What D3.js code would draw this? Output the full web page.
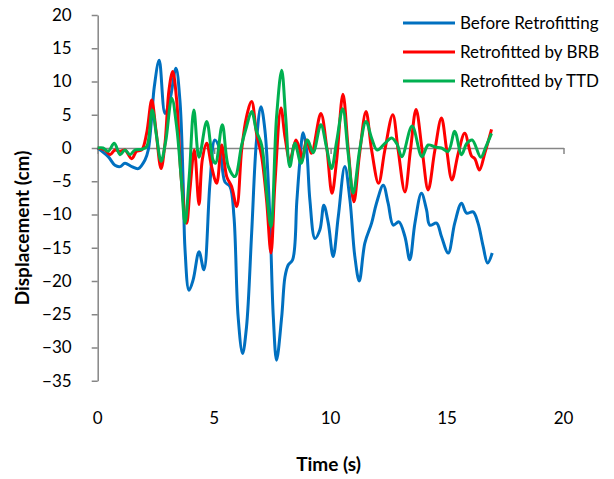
<!DOCTYPE html>
<html>
<head>
<meta charset="utf-8">
<script src="https://cdn.jsdelivr.net/npm/d3@7/dist/d3.min.js"></script>
<style>
  html, body { margin: 0; padding: 0; background: #fff; }
  svg { display: block; font-family: Lato, "Open Sans", sans-serif; }
</style>
</head>
<body>
<svg id="chart" width="614" height="479"></svg>
<script>
// Time (s) and displacement (cm) samples for each case
const beforeT = [0,0.45,0.74,0.96,1.17,1.46,1.74,2.03,2.17,2.32,2.43,2.64,2.89,3.10,3.36,3.53,3.67,3.75,3.92,4.10,4.35,4.56,4.82,5.03,5.25,5.46,5.68,5.85,6.03,6.22,6.39,6.61,6.82,7.01,7.18,7.39,7.54,7.68,7.90,8.04,8.18,8.37,8.55,8.68,8.82,8.97,9.11,9.33,9.54,9.71,9.90,10.11,10.33,10.61,10.83,11.04,11.23,11.47,11.76,11.97,12.26,12.47,12.69,12.93,13.19,13.40,13.62,13.90,14.12,14.26,14.55,14.76,15.05,15.33,15.62,15.84,16.12,16.33,16.55,16.74,16.94];
const beforeD = [0,-1.3,-2.6,-2.8,-2.3,-2.8,-3.1,-1.8,-0.3,4.7,9.2,13.2,5.2,7.2,12.0,7.2,-5.3,-15.3,-21.4,-19.8,-15.6,-18.3,-5.3,1.2,-0.3,-5.1,-5.8,-10.3,-25.4,-30.9,-26.9,-12.8,1.2,6.2,2.7,-10.3,-25.4,-31.9,-25.4,-19.4,-17.6,-16.8,-8,-2,2.3,-0.3,-7.8,-13.6,-12.3,-8.6,-11.3,-16.3,-10.3,-2.8,-7.8,-16.3,-20,-14.3,-11.3,-8.3,-5.6,-8.3,-11.6,-11.1,-13.3,-16.8,-11.3,-6.8,-9.3,-11.6,-11.3,-13.3,-15.8,-11.3,-8.3,-9.8,-9.6,-11.3,-14.8,-17.3,-15.8];

const brbT = [0,0.31,0.53,0.74,0.96,1.17,1.46,1.67,1.89,2.10,2.32,2.50,2.72,2.89,3.06,3.22,3.39,3.58,3.82,3.96,4.15,4.35,4.49,4.68,4.89,5.11,5.32,5.54,5.75,5.97,6.18,6.39,6.61,6.82,7.04,7.25,7.44,7.61,7.87,8.04,8.25,8.51,8.68,8.78,8.97,9.18,9.58,9.83,10.06,10.26,10.53,10.76,11.00,11.23,11.52,11.76,12.06,12.33,12.67,12.90,13.19,13.43,13.67,13.93,14.19,14.47,14.76,14.98,15.21,15.48,15.76,16.05,16.19,16.39,16.62,16.91];
const brbD = [0,-0.3,-1,-0.3,-0.5,-0.3,-1.6,-0.5,-0.3,2.2,7.2,2.7,-3.1,0.7,8.7,11.5,7.2,-4.3,-11.3,-6.3,-0.3,-8.5,-1.8,0.7,-2.8,-5.3,0.45,-4.3,-5.8,-8.8,-0.3,4.7,7,2.2,-1.3,-7.8,-15.8,-5.3,6,1.7,-1.8,1.2,-0.3,-1.8,1.2,-0.8,5.2,0.2,-6.8,-1.8,8.1,-0.3,-8.1,-1.3,5.5,-0.3,-5.3,-0.3,5,-0.3,-6.6,-0.3,5.8,-0.3,-6.3,-0.5,4.5,-0.2,-4.8,-0.8,2.2,-1.2,-1.6,-3.3,-0.8,2.8];

const ttdT = [0,0.23,0.45,0.71,0.96,1.17,1.39,1.60,1.89,2.10,2.34,2.53,2.72,2.92,3.18,3.39,3.58,3.75,3.93,4.13,4.35,4.68,4.95,5.06,5.35,5.61,5.89,6.18,6.39,6.61,6.82,7.04,7.25,7.44,7.68,7.90,8.07,8.25,8.47,8.73,9.01,9.25,9.58,9.83,10.04,10.26,10.52,10.76,10.97,11.26,11.52,11.76,12.00,12.33,12.62,12.85,13.06,13.50,13.92,14.19,14.48,14.76,15.05,15.33,15.62,15.85,16.08,16.45,16.67,16.91];
const ttdD = [0,0,-0.5,0.7,-1,-0.3,-1,-0.3,-0.2,0.2,5.7,1.7,-2,1,7.5,3.2,-4.3,-11.3,-4.3,5.7,-1.4,4,-1.8,-2.3,3.5,-2.8,-4.3,0.45,3.2,5.5,2.5,0.45,-6.6,-11.8,4.7,11.7,4.7,-2.8,0.7,-2.3,1.2,-0.7,3.5,0,-3.1,1,5.9,-1,-6.8,0,4,1.5,-0.3,0.7,1.5,0.6,-1.3,3.3,-1.3,0.45,0.15,0,-0.5,2.5,-1,0.7,1.2,-1.4,0.2,2.2];

const seriesNames = ["Before Retrofitting", "Retrofitted by BRB", "Retrofitted by TTD"];
const seriesColors = ["#0070C0", "#FF0000", "#00B050"];
const xTicks = [0, 5, 10, 15, 20];
const yTicks = [20, 15, 10, 5, 0, -5, -10, -15, -20, -25, -30, -35];

const series = [
  { name: seriesNames[0], color: seriesColors[0], pts: beforeT.map((t, i) => [t, beforeD[i]]) },
  { name: seriesNames[1], color: seriesColors[1], pts: brbT.map((t, i) => [t, brbD[i]]) },
  { name: seriesNames[2], color: seriesColors[2], pts: ttdT.map((t, i) => [t, ttdD[i]]) }
];

const svg = d3.select("#chart");
const x = d3.scaleLinear().domain([0, 20]).range([97.7, 563.5]);
const y = d3.scaleLinear().domain([-35, 20]).range([380.75, 15]);
const axisColor = "#868686";

// Vertical axis with ticks pointing left
const yAxis = svg.append("g")
  .attr("transform", `translate(${x(0)},0)`)
  .call(d3.axisLeft(y).tickValues(yTicks).tickSize(6).tickSizeOuter(0).tickPadding(20));
yAxis.select(".domain").attr("stroke", axisColor).attr("stroke-width", 1.5);
yAxis.selectAll(".tick line").attr("stroke", axisColor).attr("stroke-width", 1.5);
yAxis.selectAll(".tick text").attr("fill", "#000").style("font-size", "17px").style("font-family", "Lato, sans-serif");

// Horizontal axis line drawn at zero, with labels below the plot
const xAxis = svg.append("g")
  .attr("transform", `translate(0,${y(0)})`)
  .call(d3.axisBottom(x).tickValues(xTicks).tickSize(6).tickSizeOuter(0).tickFormat(""));
xAxis.select(".domain").attr("stroke", axisColor).attr("stroke-width", 1.5);
xAxis.selectAll(".tick line").attr("stroke", axisColor).attr("stroke-width", 1.5);

svg.append("g").selectAll("text").data(xTicks).join("text")
  .attr("x", d => x(d))
  .attr("y", 424)
  .attr("text-anchor", "middle")
  .style("font-size", "17px")
  .text(d => d);

// Series lines
const line = d3.line().x(d => x(d[0])).y(d => y(d[1])).curve(d3.curveCatmullRom.alpha(0.5));
svg.append("g").selectAll("path").data(series).join("path")
  .attr("d", d => line(d.pts))
  .attr("fill", "none")
  .attr("stroke", d => d.color)
  .attr("stroke-width", 3)
  .attr("stroke-linejoin", "round");

// Axis titles
svg.append("text")
  .attr("x", x(10) - 2)
  .attr("y", 471)
  .attr("text-anchor", "middle")
  .style("font-size", "19px")
  .style("font-weight", "bold")
  .text("Time (s)");

svg.append("text")
  .attr("transform", `translate(29,228) rotate(-90)`)
  .attr("text-anchor", "middle")
  .style("font-size", "19px")
  .style("font-weight", "bold")
  .text("Displacement (cm)");

// Legend
const legend = svg.append("g").selectAll("g").data(series).join("g")
  .attr("transform", (d, i) => `translate(403,${23 + i * 29})`);
legend.append("line")
  .attr("x1", 0).attr("x2", 52).attr("y1", 0).attr("y2", 0)
  .attr("stroke", d => d.color).attr("stroke-width", 3);
legend.append("text")
  .attr("x", 57).attr("y", 6)
  .style("font-size", "17px")
  .text(d => d.name);
</script>
</body>
</html>
